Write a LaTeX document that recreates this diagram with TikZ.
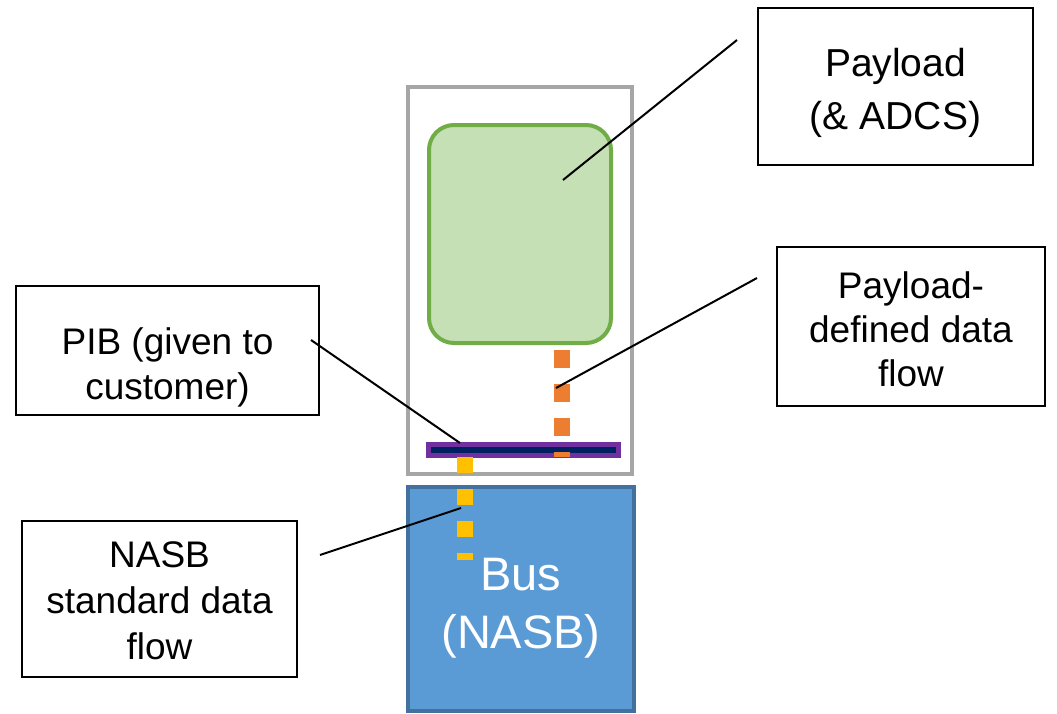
\documentclass[tikz,border=0pt]{standalone}
\usepackage{fontspec}
\setmainfont{Liberation Sans}
\usepackage{tikz}

\definecolor{satgray}{HTML}{A6A6A6}
\definecolor{plgreen}{HTML}{70AD47}
\definecolor{plfill}{HTML}{C5E0B4}
\definecolor{pibpurple}{HTML}{7030A0}
\definecolor{pibnavy}{HTML}{002060}
\definecolor{busfill}{HTML}{5B9BD5}
\definecolor{busedge}{HTML}{41719C}
\definecolor{floworange}{HTML}{ED7D31}
\definecolor{flowyellow}{HTML}{FFC000}

\begin{document}
\begin{tikzpicture}[x=1pt, y=-1pt,
	callout/.style={draw, rectangle, line width=1.5pt, inner sep=0pt},
	calltext/.style={inner sep=0pt, align=center, font=\fontsize{37}{44}\selectfont},
	block/.style={draw, rectangle, line width=4pt, inner sep=0pt},
	flowline/.style={line width=16pt},
	leader/.style={line width=2pt}]
	\useasboundingbox (0,0) rectangle (1057,713);
	
	% spacecraft
	\node[block, draw=satgray, minimum width=224pt, minimum height=387pt] (sat) at (520,280.5) {};
	\node[block, draw=plgreen, fill=plfill, rounded corners=25pt,
		minimum width=182pt, minimum height=218pt] (pl) at (520,234) {};
	\node[block, draw=pibpurple, fill=pibnavy, line width=5pt,
		minimum width=190pt, minimum height=11pt] (pib) at (523,450) {};
	\node[block, draw=busedge, fill=busfill, minimum width=226pt, minimum height=224pt] (bus) at (521,599) {};
	\node[calltext, text=white, font=\fontsize{47}{58}\selectfont] (bustext) at ([yshift=-9pt]bus.center) {Bus\\(NASB)};
	
	% data flows
	\coordinate (orangetop) at (562,350);
	\coordinate (orangebot) at (562,457);
	\coordinate (yellowtop) at (465,457);
	\coordinate (yellowbot) at (465,560);
	\draw[flowline, floworange, dash pattern=on 18pt off 16pt] (orangetop) -- (orangebot);
	\draw[flowline, flowyellow, dash pattern=on 16pt off 16pt] (yellowtop) -- (yellowbot);
	
	% callouts
	\node[callout, minimum width=275pt, minimum height=157pt] (pllbl) at (895.5,86.5) {};
	\node[callout, minimum width=268pt, minimum height=159pt] (flowlbl) at (911,326.5) {};
	\node[callout, minimum width=303pt, minimum height=129pt] (piblbl) at (167.5,350.5) {};
	\node[callout, minimum width=275pt, minimum height=156pt] (nasblbl) at (159.5,599) {};
	
	\node[calltext, font=\fontsize{39}{53}\selectfont] (pltext) at ([yshift=-6pt]pllbl.center) {Payload\\(\& ADCS)};
	\node[calltext] (flowtext) at ([yshift=-3pt]flowlbl.center) {Payload-\\defined data\\flow};
	\node[calltext, font=\fontsize{37}{45}\selectfont] (pibtext) at ([yshift=-17pt]piblbl.center) {PIB (given to\\customer)};
	\node[calltext, font=\fontsize{37}{46}\selectfont] (nasbtext) at ([yshift=-2pt]nasblbl.center) {NASB\\standard data\\flow};
	
	\coordinate (plfrom) at (737,40);
	\coordinate (plto) at (563,180);
	\coordinate (flowfrom) at (757,278);
	\coordinate (flowto) at (556,388);
	\coordinate (pibfrom) at (311,340);
	\coordinate (pibto) at (460,443);
	\coordinate (nasbfrom) at (320,555);
	\coordinate (nasbto) at (461,508);
	\draw[leader] (plfrom) -- (plto);
	\draw[leader] (flowfrom) -- (flowto);
	\draw[leader] (pibfrom) -- (pibto);
	\draw[leader] (nasbfrom) -- (nasbto);
	
\end{tikzpicture}
\end{document}
